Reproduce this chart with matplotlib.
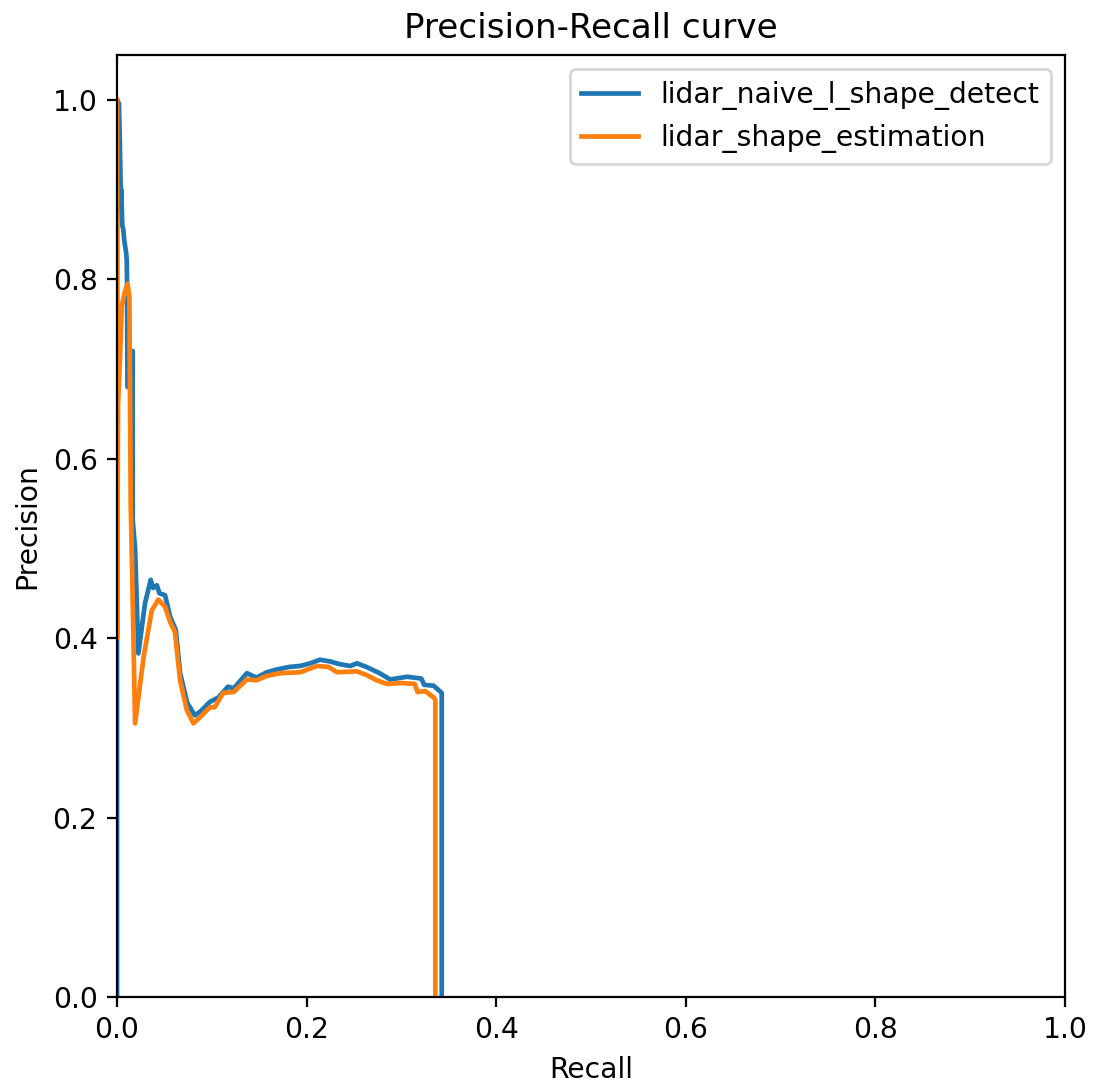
import matplotlib
matplotlib.use('Agg')
import matplotlib.pyplot as plt

# precision / recall points
naive_recall = [0.0, 0.0, 0.002, 0.003, 0.004, 0.0045, 0.0055, 0.0067, 0.0075, 0.0095, 0.0102,
                0.0105, 0.011, 0.0165, 0.0165, 0.019, 0.0225, 0.0295, 0.0355, 0.038, 0.042,
                0.0447, 0.0506, 0.056, 0.062, 0.0665, 0.074, 0.082, 0.0876, 0.098, 0.107,
                0.117, 0.123, 0.137, 0.147, 0.158, 0.168, 0.182, 0.193, 0.204, 0.214,
                0.225, 0.235, 0.246, 0.253, 0.263, 0.277, 0.288, 0.306, 0.321, 0.324,
                0.334, 0.3425, 0.3425]
naive_precision = [0.0, 1.0, 0.996, 0.95, 0.89, 0.90, 0.86, 0.855, 0.844, 0.83, 0.822,
                   0.80, 0.68, 0.72, 0.532, 0.50, 0.383, 0.439, 0.465, 0.456, 0.459,
                   0.450, 0.448, 0.424, 0.409, 0.361, 0.328, 0.314, 0.318, 0.329, 0.334,
                   0.346, 0.344, 0.361, 0.356, 0.362, 0.365, 0.368, 0.369, 0.372, 0.376,
                   0.374, 0.371, 0.369, 0.372, 0.368, 0.361, 0.354, 0.357, 0.355, 0.348,
                   0.347, 0.339, 0.0]

shape_recall = [0.0, 0.0, 0.001, 0.003, 0.005, 0.008, 0.011, 0.013, 0.0144, 0.016, 0.019,
                0.028, 0.0366, 0.0436, 0.0506, 0.056, 0.061, 0.0665, 0.0735, 0.0805, 0.0876,
                0.098, 0.103, 0.112, 0.123, 0.137, 0.147, 0.158, 0.172, 0.193, 0.211,
                0.223, 0.232, 0.253, 0.263, 0.274, 0.285, 0.299, 0.314, 0.317, 0.325,
                0.334, 0.3358, 0.3358]
shape_precision = [1.0, 0.40, 0.66, 0.71, 0.77, 0.785, 0.795, 0.78, 0.55, 0.47, 0.305,
                   0.379, 0.431, 0.443, 0.435, 0.418, 0.407, 0.353, 0.32, 0.305, 0.312,
                   0.323, 0.323, 0.339, 0.340, 0.354, 0.353, 0.358, 0.361, 0.362, 0.369,
                   0.368, 0.362, 0.363, 0.359, 0.353, 0.349, 0.350, 0.349, 0.340, 0.341,
                   0.334, 0.331, 0.0]

labels = ['lidar_naive_l_shape_detect', 'lidar_shape_estimation']

plt.rcParams['font.size'] = 10.2

fig = plt.figure(figsize=(1094 / 200, 1088 / 200), dpi=200)
ax = fig.add_axes([0.107, 0.0836, 0.8665, 0.8658])

ax.plot(naive_recall, naive_precision, label=labels[0], linewidth=1.7)
ax.plot(shape_recall, shape_precision, label=labels[1], linewidth=1.7)

ax.set_xlim(0.0, 1.0)
ax.set_ylim(0.0, 1.05)
ax.set_xlabel('Recall')
ax.set_ylabel('Precision')
ax.set_title('Precision-Recall curve', fontsize=12.3)
ax.legend(loc='upper right')

fig.savefig('out.png', dpi=200)
